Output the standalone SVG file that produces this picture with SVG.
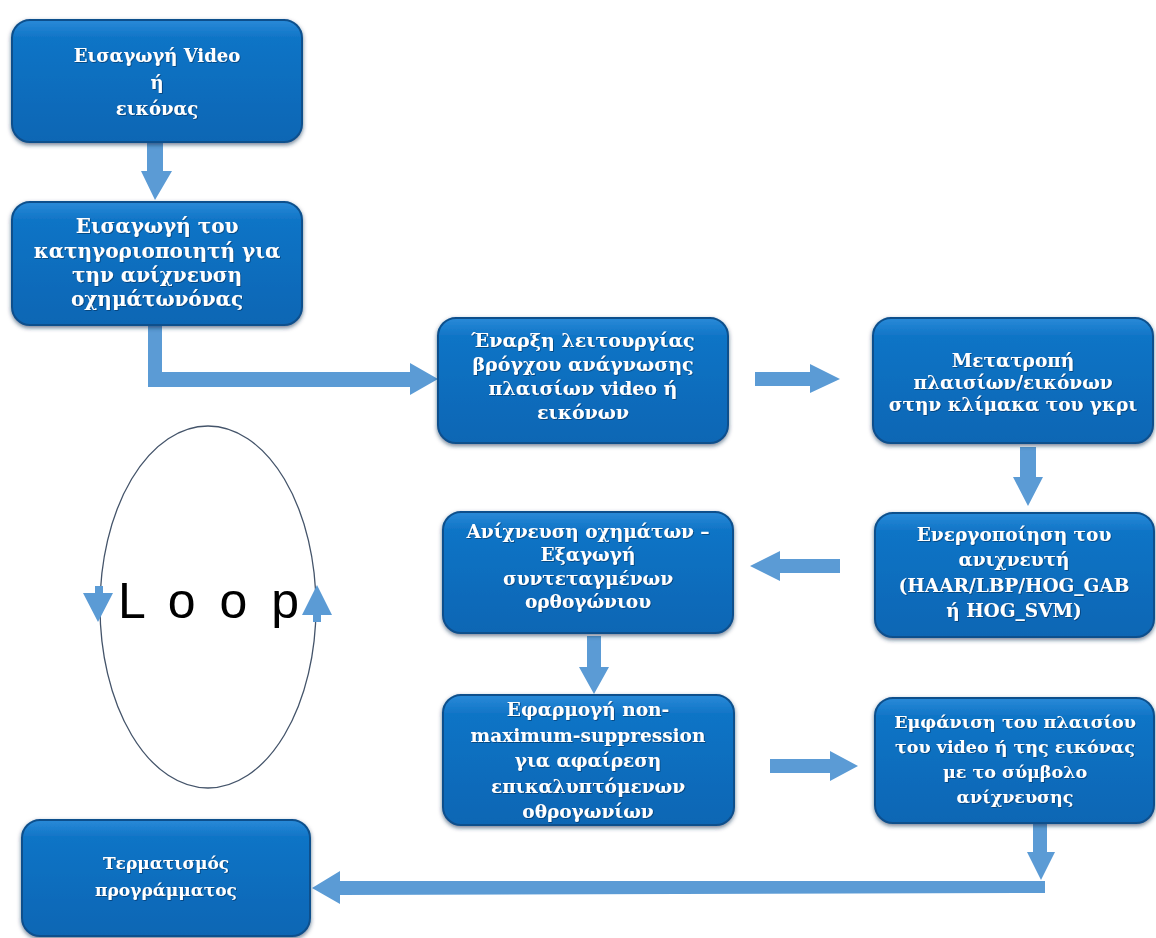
<svg xmlns="http://www.w3.org/2000/svg" width="1156" height="938" viewBox="0 0 1156 938">
<defs>
<linearGradient id="g" x1="0" y1="0" x2="0" y2="1">
<stop offset="0" stop-color="#2a8ad8"/>
<stop offset="0.15" stop-color="#0f74c6"/>
<stop offset="1" stop-color="#0a66b4"/>
</linearGradient>
<filter id="sh" x="-10%" y="-10%" width="120%" height="130%">
<feDropShadow dx="0" dy="2" stdDeviation="2" flood-color="#0a2a50" flood-opacity="0.6"/>
</filter>
<filter id="ts" x="-5%" y="-20%" width="110%" height="140%">
<feDropShadow dx="0.8" dy="0.8" stdDeviation="0.6" flood-color="#002040" flood-opacity="0.6"/>
</filter>
<style>
.box{fill:url(#g);stroke:#0b4f8c;stroke-width:2;filter:url(#sh)}
.t{font-family:"DejaVu Serif","Liberation Serif",serif;font-weight:bold;font-size:18.5px;fill:#ffffff;text-anchor:middle;filter:url(#ts)}
.arr{fill:#5b9bd5}
</style>
</defs>
<rect width="1156" height="938" fill="#ffffff"/>

<g id="connectors">
<polygon class="arr" points="147,143 163,143 163,171 172,171 155,200 141,171 147,171"/>
<polygon class="arr" points="148,325 162,325 162,372 410,372 410,363 438,379 410,395 410,387 155,387 148,387"/>
<polygon class="arr" points="755,372 810,372 810,364 840,379 810,393 810,386 755,386"/>
<polygon class="arr" points="1020,447 1036,447 1036,477 1043,477 1028,506 1013,477 1020,477"/>
<polygon class="arr" points="840,559 780,559 780,551 750,566 780,581 780,573 840,573"/>
<polygon class="arr" points="587,636 601,636 601,667 609,667 594,694 579,667 587,667"/>
<polygon class="arr" points="770,759 830,759 830,751 858,766 830,781 830,773 770,773"/>
<polygon class="arr" points="1033,823 1047,823 1047,852 1055,852 1041,880 1027,852 1033,852"/>
<polygon class="arr" points="1045,881 1045,893 340,895 340,904 312,888 340,871 340,881"/>
</g>

<g id="loop">
<ellipse cx="208" cy="607" rx="108" ry="181" fill="none" stroke="#44546a" stroke-width="1.3"/>
<polygon class="arr" points="95,586 103,586 103,593 113,593 98,622 83,593 95,593"/>
<polygon class="arr" points="313,622 321,622 321,615 332,615 317,585 302,615 313,615"/>
<text x="118" y="618" font-family="Liberation Sans, Arial, sans-serif" font-size="50" fill="#000000" letter-spacing="5">L o o p</text>
</g>

<g id="n1">
<rect class="box" x="12" y="20" width="290" height="122" rx="18"/>
<text class="t" x="157" y="62" style="font-size:18px">Εισαγωγή Video</text>
<text class="t" x="157" y="89" style="font-size:18px">ή</text>
<text class="t" x="157" y="115" style="font-size:18px">εικόνας</text>
</g>

<g id="n2">
<rect class="box" x="12" y="202" width="290" height="123" rx="18"/>
<text class="t" x="157" y="233" style="font-size:20px">Εισαγωγή του</text>
<text class="t" x="157" y="258" style="font-size:20px">κατηγοριοποιητή για</text>
<text class="t" x="157" y="282" style="font-size:20px">την ανίχνευση</text>
<text class="t" x="157" y="306" style="font-size:20px">οχημάτωνόνας</text>
</g>

<g id="n3">
<rect class="box" x="438" y="318" width="290" height="125" rx="18"/>
<text class="t" x="583" y="347" style="font-size:19px">Έναρξη λειτουργίας</text>
<text class="t" x="583" y="371" style="font-size:19px">βρόγχου ανάγνωσης</text>
<text class="t" x="583" y="395" style="font-size:19px">πλαισίων video ή</text>
<text class="t" x="583" y="419" style="font-size:19px">εικόνων</text>
</g>

<g id="n4">
<rect class="box" x="873" y="318" width="280" height="125" rx="18"/>
<text class="t" x="1013" y="367">Μετατροπή</text>
<text class="t" x="1013" y="389">πλαισίων/εικόνων</text>
<text class="t" x="1013" y="411">στην κλίμακα του γκρι</text>
</g>

<g id="n5">
<rect class="box" x="875" y="513" width="279" height="124" rx="18"/>
<text class="t" x="1014" y="541">Ενεργοποίηση του</text>
<text class="t" x="1014" y="566">ανιχνευτή</text>
<text class="t" x="1014" y="592">(HAAR/LBP/HOG_GAB</text>
<text class="t" x="1014" y="617">ή HOG_SVM)</text>
</g>

<g id="n6">
<rect class="box" x="443" y="512" width="290" height="121" rx="18"/>
<text class="t" x="588" y="538">Ανίχνευση οχημάτων –</text>
<text class="t" x="588" y="561">Εξαγωγή</text>
<text class="t" x="588" y="585">συντεταγμένων</text>
<text class="t" x="588" y="608">ορθογώνιου</text>
</g>

<g id="n7">
<rect class="box" x="443" y="695" width="291" height="130" rx="18"/>
<text class="t" x="588" y="716">Εφαρμογή non-</text>
<text class="t" x="588" y="742">maximum-suppression</text>
<text class="t" x="588" y="767">για αφαίρεση</text>
<text class="t" x="588" y="793">επικαλυπτόμενων</text>
<text class="t" x="588" y="818">οθρογωνίων</text>
</g>

<g id="n8">
<rect class="box" x="875" y="698" width="279" height="125" rx="18"/>
<text class="t" x="1015" y="728" style="font-size:17.5px">Εμφάνιση του πλαισίου</text>
<text class="t" x="1015" y="753" style="font-size:17.5px">του  video ή της εικόνας</text>
<text class="t" x="1015" y="778" style="font-size:17.5px">με το σύμβολο</text>
<text class="t" x="1015" y="803" style="font-size:17.5px">ανίχνευσης</text>
</g>

<g id="n9">
<rect class="box" x="22" y="820" width="288" height="116" rx="18"/>
<text class="t" x="166" y="869" style="font-size:17px">Τερματισμός</text>
<text class="t" x="166" y="896" style="font-size:17px">προγράμματος</text>
</g>
</svg>
